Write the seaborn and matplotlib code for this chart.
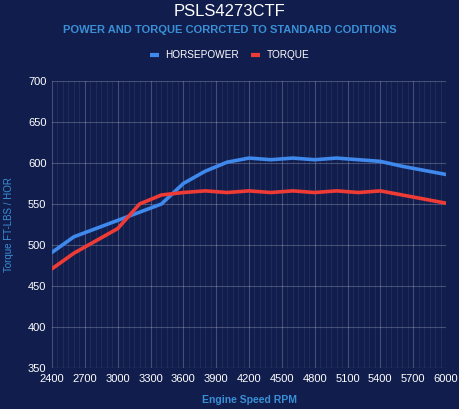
import numpy as np
import pandas as pd
import matplotlib
matplotlib.use("Agg")
import matplotlib.pyplot as plt
import seaborn as sns
from matplotlib.ticker import MultipleLocator
from matplotlib.lines import Line2D

rpm = [2400, 2600, 2800, 3000, 3200, 3400, 3600, 3800, 4000, 4200, 4400,
       4600, 4800, 5000, 5200, 5400, 5600, 5800, 6000]
horsepower = [491, 510, 520, 530, 540, 550, 575, 590, 601, 606, 604,
              606, 604, 606, 604, 602, 596, 591, 586]
torque = [471, 490, 505, 520, 550, 561, 564, 566, 564, 566, 564,
          566, 564, 566, 564, 566, 561, 556, 551]
series_names = ["HORSEPOWER", "TORQUE"]
x_ticks = [2400, 2700, 3000, 3300, 3600, 3900, 4200, 4500, 4800, 5100, 5400, 5700, 6000]
y_ticks = [350, 400, 450, 500, 550, 600, 650, 700]

bg = "#111e4d"
blue = "#3f88ec"
red = "#ef3b36"
label_blue = "#3a8fd6"

df = pd.DataFrame({
    "rpm": rpm * 2,
    "value": horsepower + torque,
    "series": [series_names[0]] * len(rpm) + [series_names[1]] * len(rpm),
})

sns.set_theme(style="dark")
plt.rcParams["font.family"] = ["Liberation Sans", "DejaVu Sans"]

fig = plt.figure(figsize=(4.59, 4.09), dpi=100, facecolor=bg)
ax = fig.add_axes([52 / 459, 1 - 368 / 409, (446 - 52) / 459, (368 - 81) / 409])
ax.set_facecolor(bg)

sns.lineplot(data=df, x="rpm", y="value", hue="series",
             palette={series_names[0]: blue, series_names[1]: red},
             linewidth=2.6, ax=ax, legend=False, zorder=3)

ax.set_xlim(2400, 6000)
ax.set_ylim(350, 700)
ax.set_xticks(x_ticks)
ax.set_yticks(y_ticks)
ax.xaxis.set_minor_locator(MultipleLocator(50))
ax.grid(True, which="major", axis="both", color="#ffffff", alpha=0.22, linewidth=0.8)
ax.grid(True, which="minor", axis="x", color="#ffffff", alpha=0.08, linewidth=0.6)
ax.tick_params(axis="both", which="both", length=0, colors="white", labelsize=8)
ax.tick_params(axis="x", pad=4.5)
ax.tick_params(axis="y", pad=4)
for s in ax.spines.values():
    s.set_visible(False)
ax.axhline(350, color="#ffffff", alpha=0.3, linewidth=0.8)

ax.set_xlabel("Engine Speed RPM", color=label_blue, fontsize=7.5, fontweight="bold", labelpad=8)
ax.set_ylabel("Torque FT-LBS / HOR", color=label_blue, fontsize=7, labelpad=10)

fig.text(0.5, 1 - 11 / 409, "PSLS4273CTF", color="white", fontsize=12, ha="center", va="center")
fig.text(0.5, 1 - 30 / 409, "POWER AND TORQUE CORRCTED TO STANDARD CODITIONS",
         color=label_blue, fontsize=8.0, fontweight="bold", ha="center", va="center")

handles = [Line2D([0], [0], color=blue, lw=3, solid_capstyle="butt"),
           Line2D([0], [0], color=red, lw=3, solid_capstyle="butt")]
leg = fig.legend(handles, series_names, loc="center", bbox_to_anchor=(0.5, 1 - 55 / 409),
                 ncol=2, frameon=False, fontsize=7.2, handlelength=0.9, handletextpad=0.6,
                 columnspacing=1.3)
for t in leg.get_texts():
    t.set_color("white")

fig.savefig("out.png", dpi=100, facecolor=bg)
